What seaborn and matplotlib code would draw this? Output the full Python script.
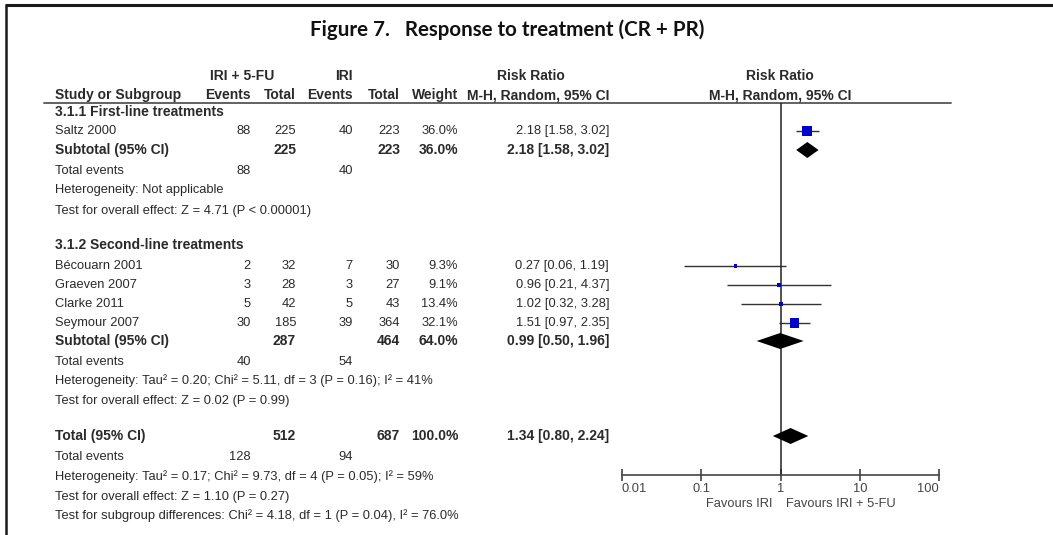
import matplotlib
matplotlib.use("Agg")
import matplotlib.pyplot as plt
import seaborn as sns
import numpy as np

# ---------------- data ----------------
studies = ["Saltz 2000", "Bécouarn 2001", "Graeven 2007", "Clarke 2011", "Seymour 2007"]
ev_comb = [88, 2, 3, 5, 30]
tot_comb = [225, 32, 28, 42, 185]
ev_iri = [40, 7, 3, 5, 39]
tot_iri = [223, 30, 27, 43, 364]
weights = [36.0, 9.3, 9.1, 13.4, 32.1]
rr = [2.18, 0.27, 0.96, 1.02, 1.51]
rr_lo = [1.58, 0.06, 0.21, 0.32, 0.97]
rr_hi = [3.02, 1.19, 4.37, 3.28, 2.35]

pool_labels = ["Subtotal (95% CI)", "Subtotal (95% CI)", "Total (95% CI)"]
pool_tot_comb = [225, 287, 512]
pool_tot_iri = [223, 464, 687]
pool_weight = ["36.0%", "64.0%", "100.0%"]
pool_rr = [2.18, 0.99, 1.34]
pool_lo = [1.58, 0.50, 0.80]
pool_hi = [3.02, 1.96, 2.24]
pool_ev_comb = [88, 40, 128]
pool_ev_iri = [40, 54, 94]

subgroups = ["3.1.1 First-line treatments", "3.1.2 Second-line treatments"]
notes = [
    ["Heterogeneity: Not applicable",
     "Test for overall effect: Z = 4.71 (P < 0.00001)"],
    ["Heterogeneity: Tau² = 0.20; Chi² = 5.11, df = 3 (P = 0.16); I² = 41%",
     "Test for overall effect: Z = 0.02 (P = 0.99)"],
    ["Heterogeneity: Tau² = 0.17; Chi² = 9.73, df = 4 (P = 0.05); I² = 59%",
     "Test for overall effect: Z = 1.10 (P = 0.27)",
     "Test for subgroup differences: Chi² = 4.18, df = 1 (P = 0.04), I² = 76.0%"],
]
x_ticks = [0.01, 0.1, 1, 10, 100]
x_ticklabels = ["0.01", "0.1", "1", "10", "100"]
title = "Figure 7.   Response to treatment (CR + PR)"

# ---------------- layout (pixel rows) ----------------
W, H = 1053, 535
study_y = [131, 266, 285, 304, 323]
pool_y = [150, 341, 436]
totev_y = [171, 362, 457]
subgroup_y = [112, 245]
notes_y = [[190, 211], [381, 401], [477, 497, 516]]
col_x = dict(name=55, ev1=251, tot1=296, ev2=353, tot2=400, wt=458, ci=609)
axis_y = 475
fx0, fx1 = 622, 939

sns.set_theme(style="white")
plt.rcParams['font.family'] = ['Liberation Sans', 'DejaVu Sans']
TXT = "#2a2a2a"
FS = 9.3
FSB = 10

fig = plt.figure(figsize=(W / 100, H / 100), dpi=100)
ax = fig.add_axes([0, 0, 1, 1])
ax.set_xlim(0, W)
ax.set_ylim(H, 0)
ax.axis("off")


def t(x, y, s, ha="left", bold=False, **kw):
    ax.text(x, y, s, ha=ha, va="center", fontsize=kw.pop("fs", FSB if bold else FS),
            fontweight="bold" if bold else "normal", color=kw.pop("c", TXT), **kw)


# frame
ax.plot([5, W], [5, 5], color="#1a1a1a", lw=2.2, solid_capstyle="butt")
ax.plot([6, 6], [5, H], color="#1a1a1a", lw=1.8, solid_capstyle="butt")

# title
ax.text(507, 30, title, ha="center", va="center", fontsize=14.8,
        fontweight="bold", family=["Lato", "DejaVu Sans"], color="#111111")

# headers
t(242, 76, "IRI + 5-FU", ha="center", bold=True)
t(344, 76, "IRI", ha="center", bold=True)
t(531, 76, "Risk Ratio", ha="center", bold=True)
t(780, 76, "Risk Ratio", ha="center", bold=True)
t(col_x["name"], 95, "Study or Subgroup", bold=True)
t(col_x["ev1"], 95, "Events", ha="right", bold=True)
t(col_x["tot1"], 95, "Total", ha="right", bold=True)
t(col_x["ev2"], 95, "Events", ha="right", bold=True)
t(col_x["tot2"], 95, "Total", ha="right", bold=True)
t(col_x["wt"], 95, "Weight", ha="right", bold=True)
t(col_x["ci"], 95, "M-H, Random, 95% CI", ha="right", bold=True)
t(780, 95, "M-H, Random, 95% CI", ha="center", bold=True)
ax.plot([44, 951], [103, 103], color="#555555", lw=1.3)

# subgroups
for s, y in zip(subgroups, subgroup_y):
    t(col_x["name"], y, s, bold=True)

# study rows
for i, s in enumerate(studies):
    y = study_y[i]
    t(col_x["name"], y, s)
    t(col_x["ev1"], y, f"{ev_comb[i]}", ha="right")
    t(col_x["tot1"], y, f"{tot_comb[i]}", ha="right")
    t(col_x["ev2"], y, f"{ev_iri[i]}", ha="right")
    t(col_x["tot2"], y, f"{tot_iri[i]}", ha="right")
    t(col_x["wt"], y, f"{weights[i]:.1f}%", ha="right")
    t(col_x["ci"], y, f"{rr[i]:.2f} [{rr_lo[i]:.2f}, {rr_hi[i]:.2f}]", ha="right")

# pooled rows
for i, lab in enumerate(pool_labels):
    y = pool_y[i]
    t(col_x["name"], y, lab, bold=True)
    t(col_x["tot1"], y, f"{pool_tot_comb[i]}", ha="right", bold=True)
    t(col_x["tot2"], y, f"{pool_tot_iri[i]}", ha="right", bold=True)
    t(col_x["wt"], y, pool_weight[i], ha="right", bold=True)
    t(col_x["ci"], y, f"{pool_rr[i]:.2f} [{pool_lo[i]:.2f}, {pool_hi[i]:.2f}]",
      ha="right", bold=True)
    ty = totev_y[i]
    t(col_x["name"], ty, "Total events")
    t(col_x["ev1"], ty, f"{pool_ev_comb[i]}", ha="right")
    t(col_x["ev2"], ty, f"{pool_ev_iri[i]}", ha="right")
    for note, ny in zip(notes[i], notes_y[i]):
        t(col_x["name"], ny, note)

# ---------------- forest axes ----------------
axf = fig.add_axes([fx0 / W, 0, (fx1 - fx0) / W, 1])
axf.patch.set_visible(False)

axf.hlines(study_y, rr_lo, rr_hi, color="#333333", lw=1.0)
sns.scatterplot(x=rr, y=study_y, size=weights,
                sizes={w: ((1 + 0.25 * w) * 0.72) ** 2 for w in weights},
                marker="s", color="#0000C8", edgecolor="none", linewidth=0,
                legend=False, ax=axf, zorder=3)
for lo, est, hi, y in zip(pool_lo, pool_rr, pool_hi, pool_y):
    axf.fill([lo, est, hi, est], [y, y - 8, y, y + 8], color="black", lw=0, zorder=3)

axf.vlines(1, 103, axis_y, color="#222222", lw=1.1, zorder=2)

axf.set_xscale("log")
axf.set_xlim(0.01, 100)
axf.set_ylim(H, 0)
for sp in ["left", "right", "top"]:
    axf.spines[sp].set_visible(False)
axf.spines["bottom"].set_position(("data", axis_y))
axf.spines["bottom"].set_color("#444444")
axf.spines["bottom"].set_linewidth(1.2)
axf.set_yticks([])
axf.set_xticks(x_ticks, x_ticklabels)
axf.xaxis.set_minor_locator(matplotlib.ticker.NullLocator())
axf.tick_params(axis="x", direction="inout", length=9, width=1.2, color="#444444",
                labelsize=FS, labelcolor="#444444", pad=1.5, bottom=True)
for lbl, ha in zip(axf.get_xticklabels(), ["left", "center", "center", "center", "right"]):
    lbl.set_ha(ha)
axf.set_xlabel("")
axf.set_ylabel("")

t(773, 504, "Favours IRI", ha="right", c="#444444")
t(786, 504, "Favours IRI + 5-FU", ha="left", c="#444444")

fig.savefig("out.png", dpi=100)
